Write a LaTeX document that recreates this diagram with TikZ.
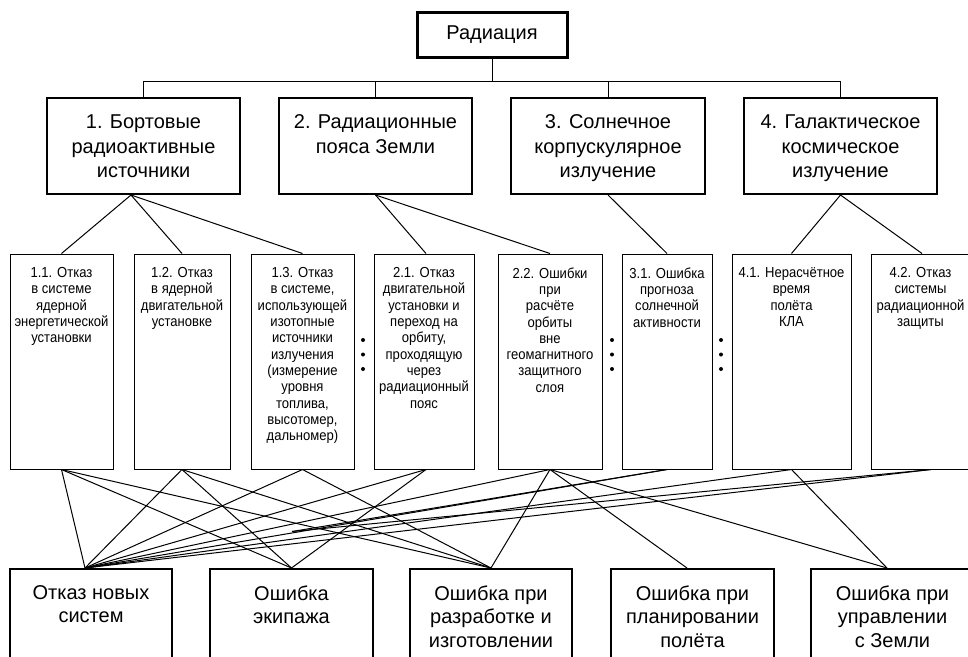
\documentclass[tikz,border=0pt]{standalone}
\usepackage{fontspec}
\setmainfont{Liberation Sans}
\newfontfamily\narrowfont[FakeStretch=0.9]{Liberation Sans}
\newcommand{\mybx}[4]{\parbox[c][#2][t]{#1}{\centering\vspace*{#3}#4}}
\begin{document}
\begin{tikzpicture}[x=1pt,y=-1pt,
  topbox/.style={draw, line width=3pt, inner sep=0pt, minimum width=150pt, minimum height=45pt, font=\fontsize{20}{24}\selectfont},
  lvlone/.style={draw, line width=2pt, inner sep=0pt, font=\fontsize{20}{24.5}\selectfont},
  lvltwo/.style={draw, line width=1pt, inner sep=0pt, font=\narrowfont\fontsize{14.5}{16.3}\selectfont},
  botbox/.style={draw, line width=2pt, inner sep=0pt, font=\fontsize{20}{23.5}\selectfont},
  conn/.style={line width=1pt},
  dotmark/.style={fill=black}]
\useasboundingbox (0,0) rectangle (968,656);
\clip (0,0) rectangle (968,656);
\fill[white] (0,0) rectangle (968,656);

% top
\node[topbox] (top) at (492,34.5) {Радиация};

% level 1
\node[lvlone] (L1) at (143.5,146) {\mybx{193pt}{96pt}{17pt}{1. Бортовые\\радиоактивные\\источники}};
\node[lvlone] (L2) at (375.5,146) {\mybx{193pt}{96pt}{17pt}{2. Радиационные\\пояса Земли}};
\node[lvlone] (L3) at (608,146) {\mybx{194pt}{96pt}{17pt}{3. Солнечное\\корпускулярное\\излучение}};
\node[lvlone] (L4) at (840.5,146) {\mybx{193pt}{96pt}{17pt}{4. Галактическое\\космическое\\излучение}};

% bus
\coordinate (bus) at (0,81);
\draw[conn] (top.south) -- (top.south |- bus);
\draw[conn] (L1.north) -- (L1.north |- bus) -| (L4.north);
\draw[conn] (L2.north) -- (L2.north |- bus);
\draw[conn] (L3.north) -- (L3.north |- bus);

% level 2
\node[lvltwo] (n11) at (61.5,361.5) {\mybx{103pt}{215pt}{13.5pt}{1.1. Отказ\\в системе\\ядерной\\энергетической\\установки}};
\node[lvltwo] (n12) at (182,361.5) {\mybx{96pt}{215pt}{13.5pt}{1.2. Отказ\\в ядерной\\двигательной\\установке}};
\node[lvltwo] (n13) at (302.5,361.5) {\mybx{103pt}{215pt}{13.5pt}{1.3. Отказ\\в системе,\\использующей\\изотопные\\источники\\излучения\\(измерение\\уровня\\топлива,\\высотомер,\\дальномер)}};
\node[lvltwo] (n21) at (424,361.5) {\mybx{100pt}{215pt}{13.5pt}{2.1. Отказ\\двигательной\\установки и\\переход на\\орбиту,\\проходящую\\через\\радиационный\\пояс}};
\node[lvltwo] (n22) at (550,361.5) {\mybx{104pt}{215pt}{13.5pt}{2.2. Ошибки\\при\\расчёте\\орбиты\\вне\\геомагнитного\\защитного\\слоя}};
\node[lvltwo] (n31) at (667,361.5) {\mybx{90pt}{215pt}{13.5pt}{3.1. Ошибка\\прогноза\\солнечной\\активности}};
\node[lvltwo] (n41) at (791.5,361.5) {\mybx{119pt}{215pt}{13.5pt}{4.1. Нерасчётное\\время\\полёта\\КЛА}};
\node[lvltwo] (n42) at (920.5,361.5) {\mybx{99pt}{215pt}{13.5pt}{4.2. Отказ\\системы\\радиационной\\защиты}};

% dots
\foreach \dx in {363,612,721}{
  \foreach \dy in {340,354.5,369}{
    \fill[dotmark] (\dx,\dy) circle (2pt);
  }
}

% level1 -> level2
\draw[conn] ([xshift=-12.5pt]L1.south) -- (n11.north);
\draw[conn] ([xshift=-12.5pt]L1.south) -- (n12.north);
\draw[conn] ([xshift=-12.5pt]L1.south) -- (n13.north);
\draw[conn] (L2.south) -- ([xshift=2pt]n21.north);
\draw[conn] (L2.south) -- (n22.north);
\draw[conn] (L3.south) -- (n31.north);
\draw[conn] (L4.south) -- (n41.north);
\draw[conn] (L4.south) -- ([xshift=1.5pt]n42.north);

% bottom
\node[botbox] (B1) at (91,619) {\mybx{162pt}{100pt}{16.5pt}{Отказ новых\\систем}};
\node[botbox] (B2) at (291.5,619) {\mybx{163pt}{100pt}{16.5pt}{Ошибка\\экипажа}};
\node[botbox] (B3) at (491,619) {\mybx{162pt}{100pt}{16.5pt}{Ошибка при\\разработке и\\изготовлении}};
\node[botbox] (B4) at (692.5,619) {\mybx{163pt}{100pt}{16.5pt}{Ошибка при\\планировании\\полёта}};
\node[botbox] (B5) at (892.5,619) {\mybx{163pt}{100pt}{16.5pt}{Ошибка при\\управлении\\с Земли}};

\coordinate (b1t) at ([xshift=-6pt]B1.north);
\coordinate (b4t) at ([xshift=-5.5pt]B4.north);
\coordinate (b5t) at ([xshift=-5.5pt]B5.north);
\coordinate (stub) at (292,531.5);
\coordinate (s21) at ([xshift=2pt]n21.south);
\coordinate (s42) at ([xshift=10.5pt]n42.south);

\draw[conn] (n11.south) -- (b1t);
\draw[conn] (n11.south) -- (B2.north);
\draw[conn] (n11.south) -- (B3.north);
\draw[conn] (n12.south) -- (b1t);
\draw[conn] (n12.south) -- (B2.north);
\draw[conn] (n12.south) -- (B3.north);
\draw[conn] (n13.south) -- (b1t);
\draw[conn] (n13.south) -- (B3.north);
\draw[conn] (s21) -- (b1t);
\draw[conn] (s21) -- (B2.north);
\draw[conn] (n22.south) -- (b1t);
\draw[conn] (n22.south) -- (B3.north);
\draw[conn] (n22.south) -- (b4t);
\draw[conn] (n22.south) -- (b5t);
\draw[conn] (n31.south) -- (b1t);
\draw[conn] (n31.south) -- (stub);
\draw[conn] (n41.south) -- (b1t);
\draw[conn] (n41.south) -- (b5t);
\draw[conn] (s42) -- (b1t);
\draw[conn] (s42) -- (stub);
\end{tikzpicture}
\end{document}
